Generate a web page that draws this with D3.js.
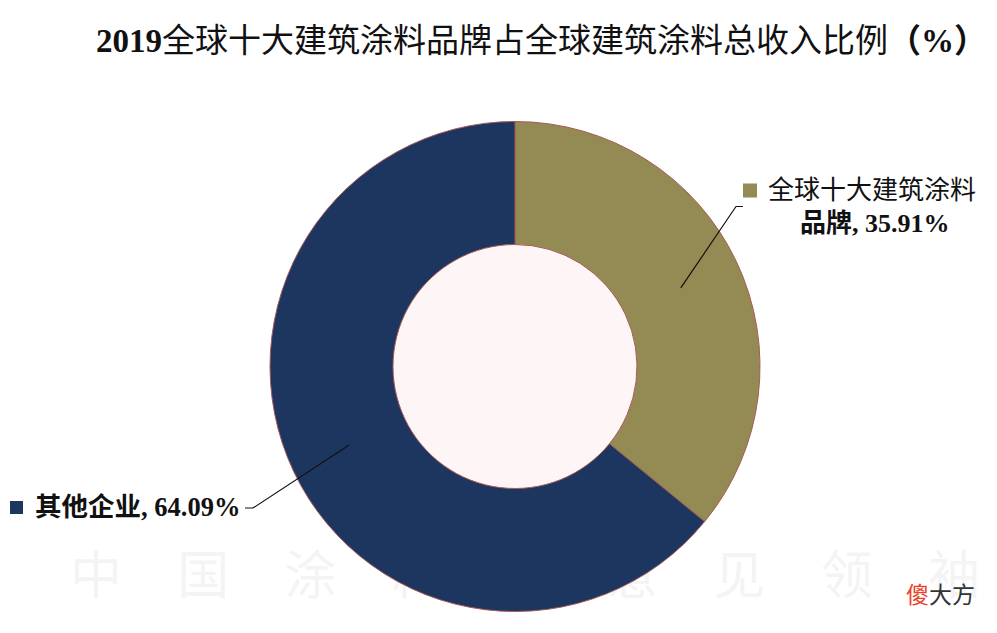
<!DOCTYPE html>
<html>
<head>
<meta charset="utf-8">
<script src="https://cdn.jsdelivr.net/npm/d3@7"></script>
<style>
  html, body { margin: 0; padding: 0; background: #ffffff; }
  svg { display: block; }
</style>
</head>
<body>
<svg id="chart" width="997" height="633"></svg>
<script>
// ---- data ----
const categories = ["全球十大建筑涂料品牌", "其他企业"];
const values = [35.91, 64.09];
const colors = ["#948a54", "#1c365f"];
const titleParts = ["2019", "全球十大建筑涂料品牌占全球建筑涂料总收入比例", "（%）"];
const watermarkLine = ["中", "国", "涂", "料", "界", "意", "见", "领", "袖"];

// ---- layout ----
const W = 997, H = 633;
const cx = 515, cy = 366.5;
const outerR = 245, innerR = 122;
const svg = d3.select("#chart");
const latin = "'Liberation Serif', 'Times New Roman', serif";
const cjk = "'Noto Sans CJK SC', sans-serif";
const mixed = "'Liberation Serif', 'Noto Sans CJK SC', serif";

svg.append("rect").attr("width", W).attr("height", H).attr("fill", "#ffffff");

// very faint watermark line at the bottom
const wx = d3.scalePoint().domain(d3.range(watermarkLine.length)).range([96, 954]);
svg.append("g").attr("pointer-events", "none")
  .selectAll("text").data(watermarkLine).join("text")
  .attr("x", (d, i) => wx(i)).attr("y", 594)
  .attr("text-anchor", "middle")
  .attr("font-family", cjk).attr("font-size", 52)
  .attr("fill", "#f4f4f6").text(d => d);

// title
const title = svg.append("text").attr("x", 96).attr("y", 52)
  .attr("font-size", 33).attr("fill", "#111");
title.append("tspan").attr("font-family", latin).attr("font-weight", "bold").text(titleParts[0]);
title.append("tspan").attr("font-family", cjk).attr("font-weight", "normal").text(titleParts[1]);
title.append("tspan").attr("font-family", mixed).attr("font-weight", "bold").text(titleParts[2]);

// donut
const pie = d3.pie().sort(null).value(d => d)(values);
const arc = d3.arc().innerRadius(innerR).outerRadius(outerR);
const g = svg.append("g").attr("transform", `translate(${cx},${cy})`);
g.append("circle").attr("r", innerR).attr("fill", "#fdf5f6");
g.selectAll("path").data(pie).join("path")
  .attr("d", arc)
  .attr("fill", (d, i) => colors[i])
  .attr("stroke", "#a85a55")
  .attr("stroke-width", 1);

// leader lines
const fmt = d3.format(".2f");
const labelCfg = [
  { elbow: [736, 206.5], end: [743, 206.5] },
  { elbow: [253, 508], end: [245, 508] }
];
pie.forEach((d, i) => {
  const c = arc.centroid(d);
  const start = [cx + c[0], cy + c[1]];
  const cfg = labelCfg[i];
  svg.append("polyline")
    .attr("points", [start, cfg.elbow, cfg.end].map(p => p.join(",")).join(" "))
    .attr("fill", "none").attr("stroke", "#111").attr("stroke-width", 1.2);
});

// label 1 (right) — one text element, two lines
svg.append("rect").attr("x", 743).attr("y", 183.5).attr("width", 14).attr("height", 14)
  .attr("fill", colors[0]);
const l1 = svg.append("text").attr("font-size", 26).attr("fill", "#111");
l1.append("tspan").attr("x", 768).attr("y", 199)
  .attr("font-family", cjk).text(categories[0].slice(0, 8));
l1.append("tspan").attr("x", 800).attr("y", 232)
  .attr("font-family", cjk).attr("font-weight", "bold").text(categories[0].slice(8));
l1.append("tspan").attr("font-family", latin).attr("font-weight", "bold")
  .text(", " + fmt(values[0]) + "%");

// label 2 (left)
svg.append("rect").attr("x", 10).attr("y", 501).attr("width", 13).attr("height", 13)
  .attr("fill", colors[1]);
const l2 = svg.append("text").attr("x", 35).attr("y", 516)
  .attr("font-size", 26.5).attr("fill", "#111").attr("font-weight", "bold");
l2.append("tspan").attr("font-family", cjk).text(categories[1]);
l2.append("tspan").attr("font-family", latin).text(", " + fmt(values[1]) + "%");

// corner mark
const mark = svg.append("text").attr("x", 906).attr("y", 603)
  .attr("font-family", cjk).attr("font-size", 23);
mark.append("tspan").attr("fill", "#e8422a").text("傻");
mark.append("tspan").attr("fill", "#333333").text("大方");
</script>
</body>
</html>
